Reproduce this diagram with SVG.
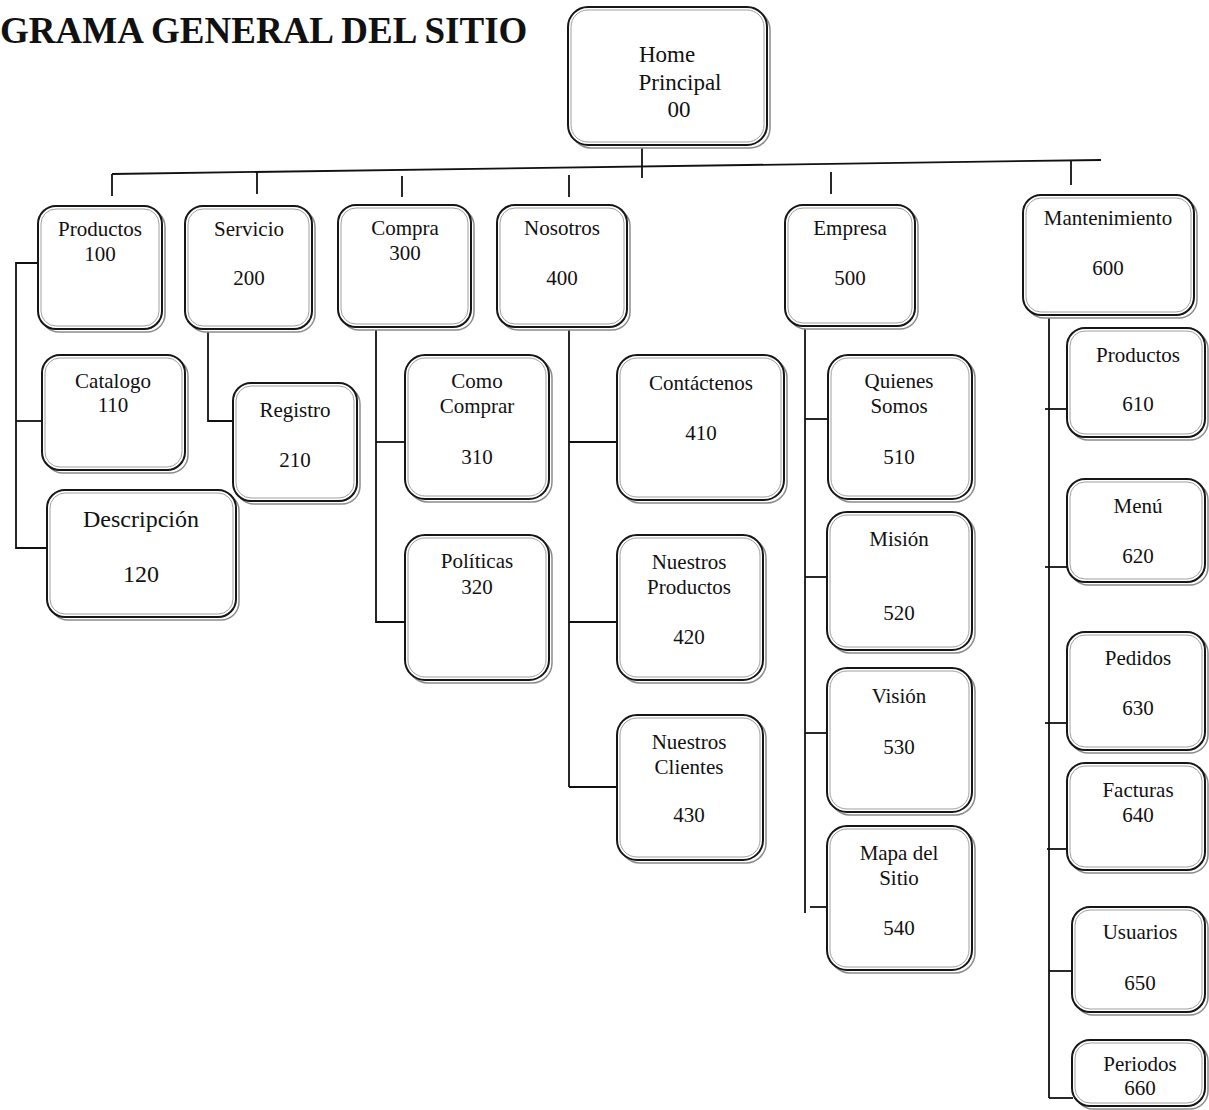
<svg xmlns="http://www.w3.org/2000/svg" width="1209" height="1110" viewBox="0 0 1209 1110">
<style>
.sh{fill:none;stroke:#8c8c8c;stroke-width:1.5}
.bx{fill:#fff;stroke:#161616;stroke-width:2}
.in{fill:none;stroke:#a0a0a0;stroke-width:1}
.t{font-family:"Liberation Serif","Times New Roman",serif;font-size:21px;fill:#111;text-anchor:middle}
.big{font-size:24px}
.home{font-size:23px}
.title{font-family:"Liberation Serif","Times New Roman",serif;font-size:37px;font-weight:bold;fill:#111}
.ln{stroke:#111;stroke-width:1.8;fill:none}
</style>
<rect width="1209" height="1110" fill="#fff"/>
<text class="title" x="0" y="43">GRAMA GENERAL DEL SITIO</text>

<g id="connectors">
<line class="ln" x1="112" y1="174" x2="1101" y2="160"/>
<line class="ln" x1="642" y1="148" x2="642" y2="178"/>
<line class="ln" x1="112" y1="174" x2="112" y2="196"/>
<line class="ln" x1="257" y1="172" x2="257" y2="194"/>
<line class="ln" x1="402" y1="176" x2="402" y2="197"/>
<line class="ln" x1="569" y1="175" x2="569" y2="197"/>
<line class="ln" x1="831" y1="172" x2="831" y2="194"/>
<line class="ln" x1="1071" y1="160" x2="1071" y2="185"/>
<polyline class="ln" points="40,263 16,263 16,548 47,548"/>
<line class="ln" x1="16" y1="421" x2="43" y2="421"/>
<polyline class="ln" points="208,332 208,421 234,421"/>
<polyline class="ln" points="376,330 376,622 405,622"/>
<line class="ln" x1="376" y1="442" x2="405" y2="442"/>
<line class="ln" x1="569" y1="330" x2="569" y2="787"/>
<line class="ln" x1="569" y1="442" x2="617" y2="442"/>
<line class="ln" x1="569" y1="622" x2="617" y2="622"/>
<line class="ln" x1="569" y1="787" x2="617" y2="787"/>
<line class="ln" x1="805" y1="329" x2="805" y2="913"/>
<line class="ln" x1="805" y1="419" x2="829" y2="419"/>
<line class="ln" x1="805" y1="577" x2="828" y2="577"/>
<line class="ln" x1="805" y1="733" x2="828" y2="733"/>
<line class="ln" x1="810" y1="907" x2="829" y2="907"/>
<line class="ln" x1="1049" y1="318" x2="1049" y2="1098"/>
<line class="ln" x1="1045" y1="409" x2="1068" y2="409"/>
<line class="ln" x1="1045" y1="567" x2="1068" y2="567"/>
<line class="ln" x1="1045" y1="723" x2="1068" y2="723"/>
<line class="ln" x1="1047" y1="849" x2="1068" y2="849"/>
<line class="ln" x1="1049" y1="971" x2="1073" y2="971"/>
<line class="ln" x1="1049" y1="1098" x2="1073" y2="1098"/>
</g>

<g id="n00">
<rect class="sh" x="571" y="10" width="199" height="138" rx="20"/>
<rect class="bx" x="568" y="7" width="199" height="138" rx="20"/>
<rect class="in" x="571" y="10" width="193" height="132" rx="17"/>
<text class="t home" x="667" y="62">Home</text>
<text class="t home" x="680" y="90">Principal</text>
<text class="t home" x="679" y="117">00</text>
</g>

<g id="n100">
<rect class="sh" x="41" y="209" width="124" height="123" rx="18"/>
<rect class="bx" x="38" y="206" width="124" height="123" rx="18"/>
<rect class="in" x="41" y="209" width="118" height="117" rx="15"/>
<text class="t" x="100" y="236">Productos</text>
<text class="t" x="100" y="261">100</text>
</g>

<g id="n200">
<rect class="sh" x="188" y="209" width="127" height="123" rx="18"/>
<rect class="bx" x="185" y="206" width="127" height="123" rx="18"/>
<rect class="in" x="188" y="209" width="121" height="117" rx="15"/>
<text class="t" x="249" y="236">Servicio</text>
<text class="t" x="249" y="285">200</text>
</g>

<g id="n300">
<rect class="sh" x="341" y="208" width="133" height="122" rx="18"/>
<rect class="bx" x="338" y="205" width="133" height="122" rx="18"/>
<rect class="in" x="341" y="208" width="127" height="116" rx="15"/>
<text class="t" x="405" y="235">Compra</text>
<text class="t" x="405" y="260">300</text>
</g>

<g id="n400">
<rect class="sh" x="500" y="208" width="130" height="122" rx="18"/>
<rect class="bx" x="497" y="205" width="130" height="122" rx="18"/>
<rect class="in" x="500" y="208" width="124" height="116" rx="15"/>
<text class="t" x="562" y="235">Nosotros</text>
<text class="t" x="562" y="285">400</text>
</g>

<g id="n500">
<rect class="sh" x="788" y="208" width="130" height="121" rx="18"/>
<rect class="bx" x="785" y="205" width="130" height="121" rx="18"/>
<rect class="in" x="788" y="208" width="124" height="115" rx="15"/>
<text class="t" x="850" y="235">Empresa</text>
<text class="t" x="850" y="285">500</text>
</g>

<g id="n600">
<rect class="sh" x="1026" y="198" width="171" height="120" rx="18"/>
<rect class="bx" x="1023" y="195" width="171" height="120" rx="18"/>
<rect class="in" x="1026" y="198" width="165" height="114" rx="15"/>
<text class="t" x="1108" y="225">Mantenimiento</text>
<text class="t" x="1108" y="275">600</text>
</g>

<g id="n110">
<rect class="sh" x="45" y="358" width="143" height="115" rx="18"/>
<rect class="bx" x="42" y="355" width="143" height="115" rx="18"/>
<rect class="in" x="45" y="358" width="137" height="109" rx="15"/>
<text class="t" x="113" y="388">Catalogo</text>
<text class="t" x="113" y="412">110</text>
</g>

<g id="n120">
<rect class="sh" x="50" y="493" width="189" height="127" rx="18"/>
<rect class="bx" x="47" y="490" width="189" height="127" rx="18"/>
<rect class="in" x="50" y="493" width="183" height="121" rx="15"/>
<text class="t big" x="141" y="527">Descripción</text>
<text class="t big" x="141" y="582">120</text>
</g>

<g id="n210">
<rect class="sh" x="236" y="386" width="124" height="118" rx="18"/>
<rect class="bx" x="233" y="383" width="124" height="118" rx="18"/>
<rect class="in" x="236" y="386" width="118" height="112" rx="15"/>
<text class="t" x="295" y="417">Registro</text>
<text class="t" x="295" y="467">210</text>
</g>

<g id="n310">
<rect class="sh" x="408" y="358" width="144" height="144" rx="20"/>
<rect class="bx" x="405" y="355" width="144" height="144" rx="20"/>
<rect class="in" x="408" y="358" width="138" height="138" rx="17"/>
<text class="t" x="477" y="388">Como</text>
<text class="t" x="477" y="413">Comprar</text>
<text class="t" x="477" y="464">310</text>
</g>

<g id="n320">
<rect class="sh" x="408" y="538" width="144" height="145" rx="20"/>
<rect class="bx" x="405" y="535" width="144" height="145" rx="20"/>
<rect class="in" x="408" y="538" width="138" height="139" rx="17"/>
<text class="t" x="477" y="568">Políticas</text>
<text class="t" x="477" y="594">320</text>
</g>

<g id="n410">
<rect class="sh" x="620" y="358" width="167" height="145" rx="20"/>
<rect class="bx" x="617" y="355" width="167" height="145" rx="20"/>
<rect class="in" x="620" y="358" width="161" height="139" rx="17"/>
<text class="t" x="701" y="390">Contáctenos</text>
<text class="t" x="701" y="440">410</text>
</g>

<g id="n420">
<rect class="sh" x="620" y="538" width="146" height="145" rx="20"/>
<rect class="bx" x="617" y="535" width="146" height="145" rx="20"/>
<rect class="in" x="620" y="538" width="140" height="139" rx="17"/>
<text class="t" x="689" y="569">Nuestros</text>
<text class="t" x="689" y="594">Productos</text>
<text class="t" x="689" y="644">420</text>
</g>

<g id="n430">
<rect class="sh" x="620" y="718" width="146" height="145" rx="20"/>
<rect class="bx" x="617" y="715" width="146" height="145" rx="20"/>
<rect class="in" x="620" y="718" width="140" height="139" rx="17"/>
<text class="t" x="689" y="749">Nuestros</text>
<text class="t" x="689" y="774">Clientes</text>
<text class="t" x="689" y="822">430</text>
</g>

<g id="n510">
<rect class="sh" x="831" y="358" width="144" height="144" rx="20"/>
<rect class="bx" x="828" y="355" width="144" height="144" rx="20"/>
<rect class="in" x="831" y="358" width="138" height="138" rx="17"/>
<text class="t" x="899" y="388">Quienes</text>
<text class="t" x="899" y="413">Somos</text>
<text class="t" x="899" y="464">510</text>
</g>

<g id="n520">
<rect class="sh" x="830" y="515" width="145" height="138" rx="20"/>
<rect class="bx" x="827" y="512" width="145" height="138" rx="20"/>
<rect class="in" x="830" y="515" width="139" height="132" rx="17"/>
<text class="t" x="899" y="546">Misión</text>
<text class="t" x="899" y="620">520</text>
</g>

<g id="n530">
<rect class="sh" x="830" y="671" width="145" height="144" rx="20"/>
<rect class="bx" x="827" y="668" width="145" height="144" rx="20"/>
<rect class="in" x="830" y="671" width="139" height="138" rx="17"/>
<text class="t" x="899" y="703">Visión</text>
<text class="t" x="899" y="754">530</text>
</g>

<g id="n540">
<rect class="sh" x="830" y="829" width="145" height="144" rx="20"/>
<rect class="bx" x="827" y="826" width="145" height="144" rx="20"/>
<rect class="in" x="830" y="829" width="139" height="138" rx="17"/>
<text class="t" x="899" y="860">Mapa del</text>
<text class="t" x="899" y="885">Sitio</text>
<text class="t" x="899" y="935">540</text>
</g>

<g id="n610">
<rect class="sh" x="1070" y="331" width="138" height="109" rx="18"/>
<rect class="bx" x="1067" y="328" width="138" height="109" rx="18"/>
<rect class="in" x="1070" y="331" width="132" height="103" rx="15"/>
<text class="t" x="1138" y="362">Productos</text>
<text class="t" x="1138" y="411">610</text>
</g>

<g id="n620">
<rect class="sh" x="1070" y="482" width="138" height="103" rx="18"/>
<rect class="bx" x="1067" y="479" width="138" height="103" rx="18"/>
<rect class="in" x="1070" y="482" width="132" height="97" rx="15"/>
<text class="t" x="1138" y="513">Menú</text>
<text class="t" x="1138" y="563">620</text>
</g>

<g id="n630">
<rect class="sh" x="1070" y="635" width="138" height="118" rx="18"/>
<rect class="bx" x="1067" y="632" width="138" height="118" rx="18"/>
<rect class="in" x="1070" y="635" width="132" height="112" rx="15"/>
<text class="t" x="1138" y="665">Pedidos</text>
<text class="t" x="1138" y="715">630</text>
</g>

<g id="n640">
<rect class="sh" x="1070" y="766" width="138" height="107" rx="18"/>
<rect class="bx" x="1067" y="763" width="138" height="107" rx="18"/>
<rect class="in" x="1070" y="766" width="132" height="101" rx="15"/>
<text class="t" x="1138" y="797">Facturas</text>
<text class="t" x="1138" y="822">640</text>
</g>

<g id="n650">
<rect class="sh" x="1075" y="910" width="133" height="105" rx="18"/>
<rect class="bx" x="1072" y="907" width="133" height="105" rx="18"/>
<rect class="in" x="1075" y="910" width="127" height="99" rx="15"/>
<text class="t" x="1140" y="939">Usuarios</text>
<text class="t" x="1140" y="990">650</text>
</g>

<g id="n660">
<rect class="sh" x="1075" y="1043" width="133" height="66" rx="18"/>
<rect class="bx" x="1072" y="1040" width="133" height="66" rx="18"/>
<rect class="in" x="1075" y="1043" width="127" height="60" rx="15"/>
<text class="t" x="1140" y="1071">Periodos</text>
<text class="t" x="1140" y="1095">660</text>
</g>
</svg>
